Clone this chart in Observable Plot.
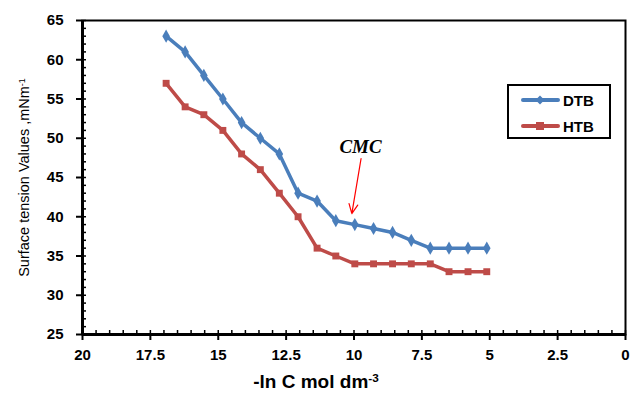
<!DOCTYPE html>
<html>
<head>
<meta charset="utf-8">
<script src="https://cdn.jsdelivr.net/npm/d3@7"></script>
<script src="https://cdn.jsdelivr.net/npm/@observablehq/plot@0.6"></script>
<style>
  html, body { margin: 0; padding: 0; background: #fff; }
  #wrap { position: relative; width: 631px; height: 396px; }
  #legend { position: absolute; left: 507px; top: 84px; width: 100px; height: 51px;
            border: 2px solid #000; background: #fff; box-sizing: content-box; }
  #legend .row { position: absolute; left: 12px; height: 20px; display: flex; align-items: center;
                 font: bold 15px "Liberation Sans", Arial, sans-serif; color: #000; }
  #legend svg { margin-right: 3px; }
</style>
</head>
<body>
<div id="wrap"></div>
<script>
// ---- data ----
const lnC = [16.92, 16.22, 15.53, 14.83, 14.14, 13.45, 12.75, 12.06, 11.36, 10.67, 9.97, 9.28, 8.58, 7.89, 7.19, 6.50, 5.80, 5.11];
const dtbValues = [63, 61, 58, 55, 52, 50, 48, 43, 42, 39.5, 39, 38.5, 38, 37, 36, 36, 36, 36];
const htbValues = [57, 54, 53, 51, 48, 46, 43, 40, 36, 35, 34, 34, 34, 34, 34, 33, 33, 33];
const seriesNames = ["DTB", "HTB"];
const xTicks = [20, 17.5, 15, 12.5, 10, 7.5, 5, 2.5, 0];
const yTicks = [25, 30, 35, 40, 45, 50, 55, 60, 65];
const cmcLabel = ["CMC"];
const cmcText = [9.76, 48.9];
const cmcArrowFrom = [9.74, 47.4];
const cmcArrowTo = [10.08, 40.4];

const colors = {DTB: "#4A7EBB", HTB: "#BE4B48"};
const dtb = lnC.map((x, i) => ({x, y: dtbValues[i]}));
const htb = lnC.map((x, i) => ({x, y: htbValues[i]}));

const chart = Plot.plot({
  width: 631,
  height: 396,
  marginLeft: 82,
  marginRight: 6,
  marginTop: 20,
  marginBottom: 62,
  x: {domain: [20, 0]},
  y: {domain: [25, 65]},
  style: {fontFamily: "'Liberation Sans', Arial, sans-serif", background: "#fff", overflow: "visible"},
  marks: [
    Plot.frame({stroke: "#000", strokeWidth: 2}),
    // minor ticks (inside)
    Plot.axisY({ticks: d3.range(25, 65.01, 1), tickSize: -4, tickFormat: () => "", label: null, strokeWidth: 1.5}),
    Plot.axisX({ticks: d3.range(0, 20.01, 0.5), tickSize: -4, tickFormat: () => "", label: null, strokeWidth: 1.5}),
    // major ticks and labels
    Plot.axisY({ticks: yTicks, tickSize: 6, tickPadding: 13, fontSize: 15, fontWeight: "bold", strokeWidth: 2,
                tickFormat: d => String(d),
                label: "Surface tension Values ,mNm", labelAnchor: "center", labelArrow: "none", labelOffset: 64}),
    Plot.axisX({ticks: xTicks, tickSize: 6, tickPadding: 9, fontSize: 15, fontWeight: "bold", strokeWidth: 2,
                tickFormat: d => String(d),
                label: "-ln C mol dm", labelAnchor: "center", labelArrow: "none", labelOffset: 53}),
    Plot.ruleX([20], {stroke: "#000", strokeWidth: 3}),
    Plot.ruleY([25], {stroke: "#000", strokeWidth: 3}),
    // series
    Plot.line(dtb, {x: "x", y: "y", stroke: colors.DTB, strokeWidth: 3.5}),
    Plot.dot(dtb, {x: "x", y: "y", symbol: "diamond", r: 4, fill: colors.DTB}),
    Plot.line(htb, {x: "x", y: "y", stroke: colors.HTB, strokeWidth: 3.5}),
    Plot.dot(htb, {x: "x", y: "y", symbol: "square", r: 3.9, fill: colors.HTB}),
    // annotation
    Plot.arrow([0], {x1: () => cmcArrowFrom[0], y1: () => cmcArrowFrom[1], x2: () => cmcArrowTo[0], y2: () => cmcArrowTo[1],
                     stroke: "#FF0000", strokeWidth: 1.2, headLength: 13, headAngle: 50}),
    Plot.text(cmcLabel, {x: () => cmcText[0], y: () => cmcText[1], text: d => d, fontSize: 19, fontWeight: "bold",
                         fontStyle: "italic", fontFamily: "'Liberation Serif', 'DejaVu Serif', serif", fill: "#000"})
  ]
});

// axis title styling and superscripts
function styleLabel(sel, size, weight, family, sup, dx) {
  const g = chart.querySelector(sel);
  if (!g) return;
  g.querySelectorAll("text").forEach(t => {
    t.style.fontSize = size + "px";
    t.style.fontWeight = weight;
    if (family) t.style.fontFamily = family;
    if (dx) t.setAttribute("dx", dx);
    const ts = document.createElementNS("http://www.w3.org/2000/svg", "tspan");
    ts.setAttribute("dy", "-0.45em");
    ts.setAttribute("font-size", "0.62em");
    ts.textContent = sup;
    t.appendChild(ts);
  });
}
styleLabel('[aria-label="y-axis label"]', 14.5, "normal", "'Liberation Sans Narrow', 'Arial Narrow', 'Liberation Sans', sans-serif", "-1", 0);
styleLabel('[aria-label="x-axis label"]', 19, "bold", null, "-3", -38);

const wrap = document.getElementById("wrap");
wrap.appendChild(chart);

// legend
const legend = document.createElement("div");
legend.id = "legend";
seriesNames.forEach((name, i) => {
  const row = document.createElement("div");
  row.className = "row";
  row.style.top = (4 + i * 26) + "px";
  const sym = name === "DTB"
    ? `<polygon points="19,1.5 23.5,6 19,10.5 14.5,6" fill="${colors[name]}"/>`
    : `<rect x="15" y="2" width="8" height="8" fill="${colors[name]}"/>`;
  row.innerHTML = `<svg width="39" height="12"><line x1="2" y1="6" x2="37" y2="6" stroke="${colors[name]}" stroke-width="4" stroke-linecap="round"/>${sym}</svg><span>${name}</span>`;
  legend.appendChild(row);
});
wrap.appendChild(legend);
</script>
</body>
</html>
